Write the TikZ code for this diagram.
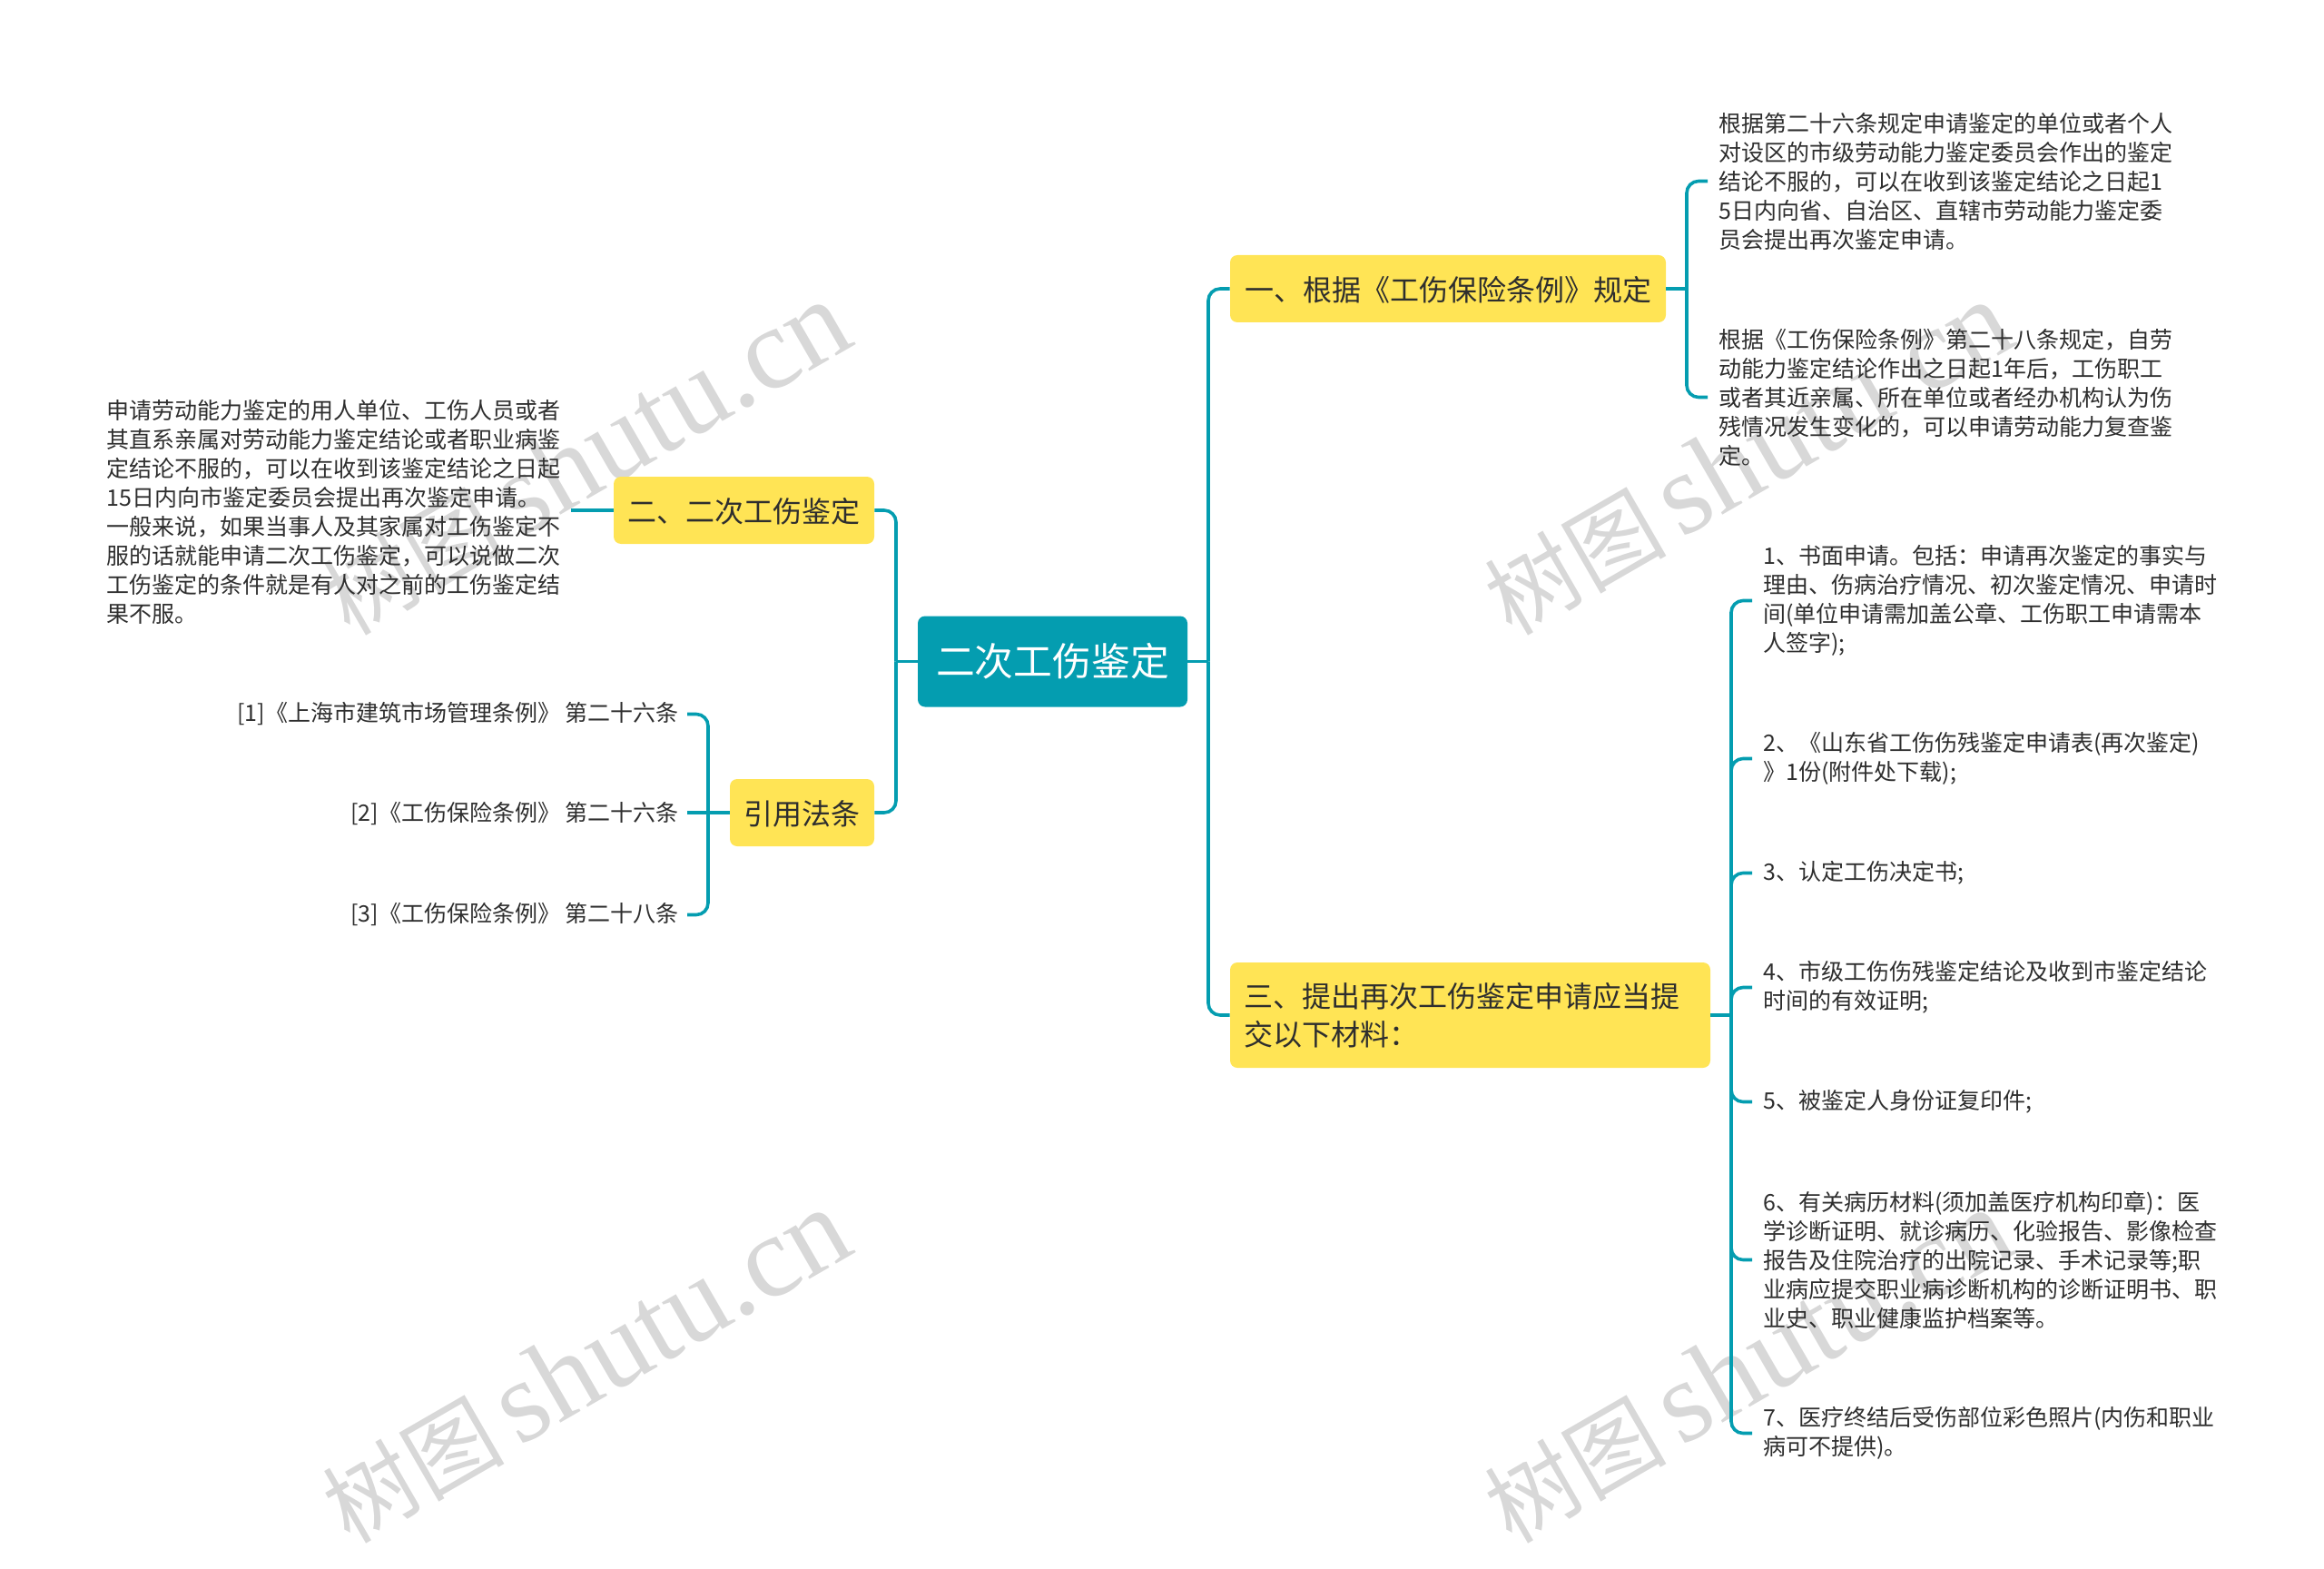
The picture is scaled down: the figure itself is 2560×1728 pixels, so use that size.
\documentclass[tikz,border=0pt]{standalone}
\usepackage{fontspec}
\setmainfont{Noto Sans CJK SC}
\newfontfamily\wmlatin{Liberation Serif}
\definecolor{tealbox}{HTML}{049DB0}
\definecolor{yellowbox}{HTML}{FFE455}
\definecolor{inktext}{HTML}{2E2E2E}
\definecolor{wmgray}{HTML}{D8D8D8}
\newcommand{\wmtext}{{\fontsize{50pt}{62pt}\selectfont 树图}\hspace{8pt}{\wmlatin\fontsize{64pt}{70pt}\selectfont shutu.cn}}
\tikzset{
  rootbox/.style={fill=tealbox,text=white,rounded corners=4pt,minimum width=148.5pt,minimum height=50pt,inner sep=0pt,font=\fontsize{21.4pt}{26pt}\selectfont},
  subbox/.style={fill=yellowbox,text=inktext,rounded corners=4pt,minimum height=37pt,inner sep=0pt,font=\fontsize{16pt}{21pt}\selectfont},
  oneline/.style={text height=16pt,text depth=2.4pt},
  leaf/.style={text=inktext,align=left,inner xsep=6pt,inner ysep=0pt,font=\fontsize{12.5pt}{16pt}\selectfont},
  link/.style={draw=tealbox,line width=1.8pt,rounded corners=6.5pt},
  wmark/.style={text=wmgray,rotate=30,inner sep=0pt}
}

\begin{document}
\begin{tikzpicture}[x=0.5pt,y=-0.5pt]
\useasboundingbox (0,0) rectangle (2560,1728);
\node[wmark] (wma) at (645,505) {\wmtext};
\node[wmark] (wmb) at (1925,505) {\wmtext};
\node[wmark] (wmc) at (645,1505) {\wmtext};
\node[wmark] (wmd) at (1925,1505) {\wmtext};

\node[rootbox] (root) at (1159.5,728.5) {二次工伤鉴定};
\node[subbox,oneline,minimum width=240pt] (yi) at (1595,318) {一、根据《工伤保险条例》规定};
\node[subbox,oneline,minimum width=143.5pt] (er) at (819.5,562) {二、二次工伤鉴定};
\node[subbox,oneline,minimum width=79.5pt] (yinyong) at (883.5,895) {引用法条};
\node[subbox,text width=249.5pt,inner xsep=7.5pt,minimum height=58pt,align=left] (san) at (1619.5,1118) {三、提出再次工伤鉴定申请应当提\\交以下材料：};

\node[leaf,anchor=west] (yia) at (1881,199.5) {根据第二十六条规定申请鉴定的单位或者个人\\对设区的市级劳动能力鉴定委员会作出的鉴定\\结论不服的，可以在收到该鉴定结论之日起1\\5日内向省、自治区、直辖市劳动能力鉴定委\\员会提出再次鉴定申请。};
\node[leaf,anchor=west] (yib) at (1881,437.5) {根据《工伤保险条例》第二十八条规定，自劳\\动能力鉴定结论作出之日起1年后，工伤职工\\或者其近亲属、所在单位或者经办机构认为伤\\残情况发生变化的，可以申请劳动能力复查鉴\\定。};
\node[leaf,anchor=east,inner xsep=5.5pt] (era) at (629,563.5) {申请劳动能力鉴定的用人单位、工伤人员或者\\其直系亲属对劳动能力鉴定结论或者职业病鉴\\定结论不服的，可以在收到该鉴定结论之日起\\15日内向市鉴定委员会提出再次鉴定申请。\\一般来说，如果当事人及其家属对工伤鉴定不\\服的话就能申请二次工伤鉴定，可以说做二次\\工伤鉴定的条件就是有人对之前的工伤鉴定结\\果不服。};
\node[leaf,anchor=east,inner xsep=4.5pt] (refa) at (757,786.5) {[1]《上海市建筑市场管理条例》 第二十六条};
\node[leaf,anchor=east,inner xsep=4.5pt] (refb) at (757,896.5) {[2]《工伤保险条例》 第二十六条};
\node[leaf,anchor=east,inner xsep=4.5pt] (refc) at (757,1007.5) {[3]《工伤保险条例》 第二十八条};
\node[leaf,anchor=west] (sana) at (1930,661.5) {1、书面申请。包括：申请再次鉴定的事实与\\理由、伤病治疗情况、初次鉴定情况、申请时\\间(单位申请需加盖公章、工伤职工申请需本\\人签字);};
\node[leaf,anchor=west] (sanb) at (1930,835.5) {2、《山东省工伤伤残鉴定申请表(再次鉴定)\\》1份(附件处下载);};
\node[leaf,anchor=west] (sanc) at (1930,961.5) {3、认定工伤决定书;};
\node[leaf,anchor=west] (sand) at (1930,1087.5) {4、市级工伤伤残鉴定结论及收到市鉴定结论\\时间的有效证明;};
\node[leaf,anchor=west] (sane) at (1930,1213.5) {5、被鉴定人身份证复印件;};
\node[leaf,anchor=west] (sanf) at (1930,1387.5) {6、有关病历材料(须加盖医疗机构印章)：医\\学诊断证明、就诊病历、化验报告、影像检查\\报告及住院治疗的出院记录、手术记录等;职\\业病应提交职业病诊断机构的诊断证明书、职\\业史、职业健康监护档案等。};
\node[leaf,anchor=west] (sang) at (1930,1578.5) {7、医疗终结后受伤部位彩色照片(内伤和职业\\病可不提供)。};

\coordinate (rootr) at (1331,728.5);
\coordinate (rootl) at (987,728.5);
\coordinate (yij) at (1858,318);
\coordinate (yinj) at (780,895);
\coordinate (sanj) at (1907,1118);

\draw[link] (root.east) -- (rootr);\draw[link] (rootr) |- (yi.west);\draw[link] (rootr) |- (san.west);
\draw[link] (root.west) -- (rootl);\draw[link] (rootl) |- (er.east);\draw[link] (rootl) |- (yinyong.east);
\draw[link] (yi.east) -- (yij);\draw[link] (yij) |- (yia.west);\draw[link] (yij) |- (yib.west);
\draw[link] (er.west) -- (era.east |- er.west);
\draw[link] (yinyong.west) -- (refb.east |- yinyong.west);\draw[link] (yinj) |- (refa.east);\draw[link] (yinj) |- (refc.east);
\draw[link] (san.east) -- (sanj);\draw[link] (sanj) |- (sana.west);\draw[link] (sanj) |- (sanb.west);\draw[link] (sanj) |- (sanc.west);\draw[link] (sanj) |- (sand.west);\draw[link] (sanj) |- (sane.west);\draw[link] (sanj) |- (sanf.west);\draw[link] (sanj) |- (sang.west);
\end{tikzpicture}
\end{document}
